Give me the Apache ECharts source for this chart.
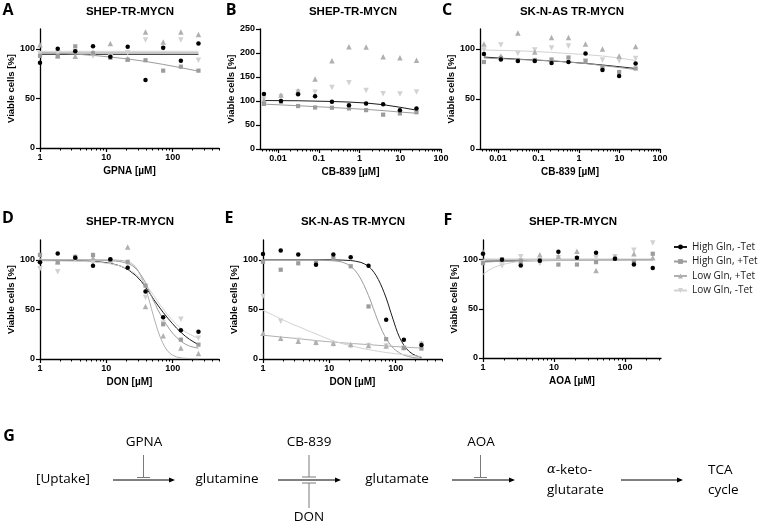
<!DOCTYPE html>
<html><head><meta charset="utf-8">
<script src="https://cdn.jsdelivr.net/npm/echarts@6/dist/echarts.min.js"></script>
<style>html,body{margin:0;padding:0;background:#fff}#c{width:759px;height:524px}</style>
</head><body><div id="c"></div>
<script>
// ---------- categories / ticks ----------
const conditions = ['High Gln, -Tet', 'High Gln, +Tet', 'Low Gln, +Tet', 'Low Gln, -Tet'];
const xTicksDose = [1, 10, 100];
const xTicksCB = [0.01, 0.1, 1, 10, 100];
const yTicks120 = [0, 50, 100];
const yTicks250 = [0, 50, 100, 150, 200, 250];

// ---------- doses ----------
const dosesGPNA = [1, 1.85, 3.4, 6.3, 11.5, 21, 39, 72, 133, 245];
const dosesCB839 = [0.0045, 0.0118, 0.031, 0.081, 0.21, 0.55, 1.45, 3.8, 9.8, 25];
const dosesDON = [1, 1.85, 3.4, 6.3, 11.5, 21, 39, 72, 133, 245];
const dosesAOA = [1, 1.85, 3.4, 6.3, 11.5, 21, 39, 72, 133, 245];

// ---------- A: GPNA, SHEP ----------
const A_hm = [86, 100, 97.5, 102.5, 92, 102, 68.5, 101, 88, 105.5];
const A_hp = [93, 92.5, 102.5, 95.5, 91, 89, 88.5, 78, 82, 78];
const A_lp = [104, 93, 92.5, 96.5, 105.5, 90, 117, 107, 117, 114.5];
const A_lm = [95, 96, 97, 92.5, 92, 96, 109, 100, 109, 88.5];
const A_fit_hm = [[1, 94.5], [245, 94.5]];
const A_fit_hp = [[1, 96], [2, 95.5], [3.4, 94.7], [6.3, 93.4], [11.5, 91.7], [21, 89.8], [39, 87.3], [72, 84.3], [133, 81], [245, 77.5]];
const A_fit_lp = [[1, 96], [245, 96]];
const A_fit_lm = [[1, 97.5], [245, 97.5]];

// ---------- B: CB-839, SHEP ----------
const B_hm = [114.5, 100, 114, 110, 98.5, 91, 95, 93, 80.5, 84.5];
const B_hp = [94, 98.5, 89.5, 86.5, 86, 84.5, 81, 71.5, 74, 76.5];
const B_lp = [102, 112.5, 121.5, 146, 184, 213, 212.5, 192, 190, 185];
const B_lm = [104, 109, 119, 118, 128, 138, 122, 115, 114.5, 119];
const B_fit_hm = [[0.0045, 101], [0.031, 100.5], [0.21, 99], [0.55, 97.8], [1.45, 95.8], [3.8, 92.3], [9.8, 87], [25, 81]];
const B_fit_hp = [[0.0045, 93.5], [0.0118, 91.8], [0.031, 90.2], [0.081, 88.3], [0.21, 86.5], [0.55, 84.5], [1.45, 82.5], [3.8, 80], [9.8, 77], [25, 74.5]];

// ---------- C: CB-839, SK-N-AS ----------
const C_hm = [95, 89.5, 88, 88, 86, 87, 95.5, 79, 73, 85.5];
const C_hp = [87, 91, 89, 89, 89.5, 91.5, 88, 81, 77, 80.5];
const C_lp = [105, 93, 116, 97, 111.5, 111.5, 105, 100, 93, 102.5];
const C_lm = [99, 104, 95.5, 99, 101, 103, 88, 89, 88, 90.5];
const C_fit_hm = [[0.0045, 92], [0.0118, 90.8], [0.031, 89.8], [0.081, 89], [0.21, 88], [0.55, 87], [1.45, 85.6], [3.8, 84], [9.8, 82.3], [25, 80.5]];
const C_fit_hp = [[0.0045, 91], [0.031, 89.5], [0.21, 88.3], [1.45, 85.5], [3.8, 83.5], [9.8, 81.5], [25, 79.5]];
const C_fit_lm = [[0.0045, 99], [0.031, 98.2], [0.081, 97.5], [0.21, 96.6], [0.55, 95.5], [1.45, 94.4], [3.8, 93], [9.8, 91], [25, 88.5]];

// ---------- D: DON, SHEP ----------
const D_hm = [97.5, 106.5, 102, 94, 100.5, 92, 68, 42, 29, 27.5];
const D_hp = [105, 97.5, 103, 105, 100, 98, 74, 35, 19.5, 14.5];
const D_lp = [100, 98, 103, 102, 100, 113, 53, 23.5, 11, 5.5];
const D_lm = [91, 88, 100, 97, 98, 95, 62, 36, 40, 21];
const D_fit_hm = [[1, 99.5], [3.4, 99.2], [6.3, 98.5], [9, 97.5], [11.5, 96.5], [16, 94], [21, 90.5], [28, 84], [34, 78], [39, 72.5], [45, 66.5], [52, 60], [61, 53.5], [72, 47], [85, 41], [100, 35.5], [115, 31], [133, 27], [155, 23], [180, 19.8], [210, 17], [245, 14.5]];
const D_fit_hp = [[1, 100], [6.3, 99.8], [11.5, 99.3], [16, 98.3], [21, 96.5], [25, 94], [30, 89], [35, 82.5], [39, 77], [42, 72], [46, 66], [50, 60.5], [55, 55], [60, 49.5], [66, 44.5], [72, 40], [80, 35], [90, 30], [100, 26], [115, 21.7], [133, 18], [155, 15], [180, 13], [210, 11.8], [245, 11]];
const D_fit_lp = [[1, 100], [11.5, 100], [16, 99.5], [19, 98.8], [21, 98], [24, 96.5], [27, 93.5], [30, 89.5], [33, 84], [36, 78], [39, 71.5], [42, 64.5], [45, 57.5], [48, 50.5], [51, 44], [55, 36.5], [60, 28.5], [65, 22], [70, 17], [75, 13], [82, 9], [90, 6], [100, 3.8], [115, 2], [140, 0.9], [180, 0.4], [245, 0.2]];
const D_fit_lm = [[1, 99], [3.4, 98.6], [6.3, 98], [9, 97], [11.5, 96], [16, 94], [21, 91], [26, 87], [30, 83.5], [35, 79], [39, 75.5], [45, 70], [52, 64], [61, 57], [72, 50.5], [85, 44], [100, 39], [115, 34.5], [133, 31], [155, 27.5], [180, 25], [210, 22.8], [245, 21]];

// ---------- E: DON, SK-N-AS ----------
const E_hm = [106, 109.5, 105.5, 95, 105.5, 102.5, 94, 39.5, 19.5, 14];
const E_hp = [98, 90, 96.5, 97.5, 101.5, 93.5, 53, 20, 11, 10.5];
const E_lp = [26, 21, 18, 17, 16, 14.5, 13.5, 13, 12, 16];
const E_lm = [63, 38, 19, 16, 14.5, 13, 13.5, 13, 11, 15];
const E_fit_hm = [[1, 100], [11.5, 100], [16, 99.7], [21, 99.3], [25, 98.6], [30, 97.4], [34, 95.8], [39, 93.5], [43, 90.8], [47, 87.5], [51, 84], [55, 80], [59, 75.8], [63, 71.5], [67, 67], [72, 61.5], [78, 54.5], [85, 46.5], [92, 39.5], [100, 32], [107, 26.5], [115, 21.5], [124, 17.3], [133, 14], [145, 10.5], [160, 7.6], [180, 5], [200, 3.5], [220, 2.5], [245, 1.7]];
const E_fit_hp = [[1, 100], [6.3, 99.9], [11.5, 99], [14, 98.4], [16, 97.5], [18.5, 95.8], [21, 93.5], [24, 90], [27, 85.5], [30, 80.5], [33, 75], [36, 69.5], [39, 64], [42.5, 57.5], [46, 51], [50, 44.5], [54, 38.5], [58, 33.5], [63, 28], [67.5, 24], [72, 20.5], [78, 17], [85, 13.5], [92, 11], [100, 8.8], [115, 6], [133, 3.9], [155, 2.5], [180, 1.6], [210, 1], [245, 0.7]];
const E_fit_lp = [[1, 24], [1.85, 22.2], [3.4, 20.5], [6.3, 18.6], [11.5, 17], [21, 15.7], [39, 14.5], [72, 13.2], [133, 12], [245, 11]];
const E_fit_lm = [[1, 49], [1.2, 46.6], [1.4, 44.5], [1.6, 42.5], [1.85, 40.5], [2.15, 38.5], [2.5, 36.5], [2.9, 34.6], [3.4, 32.8], [4, 30.8], [4.6, 29], [5.4, 27.1], [6.3, 25.3], [7.3, 23.5], [8.5, 21.6], [10, 19.8], [11.5, 18.3], [13.5, 16.8], [16, 15.4], [18.5, 14.3], [21, 13.4], [25, 12.2], [30, 11], [34, 10.2], [39, 9.5], [46, 8.6], [55, 7.8], [63, 7.1], [72, 6.5], [85, 5.9], [100, 5.3], [115, 4.9], [133, 4.4], [155, 3.8], [180, 3.3], [210, 2.9], [245, 2.5]];

// ---------- F: AOA, SHEP ----------
const F_hm = [106, 100, 94, 99, 108, 102, 107, 101, 95, 91.5];
const F_hp = [96.5, 100.5, 99, 99.5, 95, 95, 97.5, 101, 98, 106];
const F_lp = [108, 100, 98, 105, 103.5, 108.5, 89, 103, 106, 102];
const F_lm = [97, 93.5, 103, 96, 102, 101, 102, 103, 109.5, 117];
const F_fit_hm = [[1, 98.5], [245, 100]];
const F_fit_hp = [[1, 97.5], [1.85, 98.4], [3.4, 99], [6.3, 99.3], [245, 99.5]];
const F_fit_lp = [[1, 100.5], [245, 100.5]];
const F_fit_lm = [[1, 85], [1.1, 87.3], [1.2, 89.2], [1.3, 90.6], [1.45, 92.2], [1.6, 93.4], [1.85, 94.8], [2.15, 96], [2.5, 96.9], [2.9, 97.6], [3.4, 98.2], [4.3, 98.8], [6.3, 99.3], [11.5, 99.5], [245, 99.5]];

// ---------- styles ----------
const condColor = ['#000000', '#9c9c9c', '#b0b0b0', '#d2d2d2'];
const condLine = ['#1c1c1c', '#9c9c9c', '#b0b0b0', '#d2d2d2'];
const condSymbol = ['circle', 'rect', 'triangle', 'path://M0,0L10,0L5,9Z'];
const condSize = [4.5, 4.2, 5.5, 5.5];
const axisFont = 'Liberation Sans, Arial, sans-serif';
const textFont = 'Open Sans, sans-serif';

const panels = [
  {letter: 'A', title: 'SHEP-TR-MYCN', xName: 'GPNA [µM]', grid: {left: 40, top: 29, width: 179, height: 119},
   xMin: 1, xMax: 500, xTicks: xTicksDose, yMax: 120, yTicks: yTicks120, yGap: 23,
   doses: dosesGPNA, pts: [A_hm, A_hp, A_lp, A_lm], fits: [A_fit_hm, A_fit_hp, A_fit_lp, A_fit_lm],
   letterPos: [8, 12], titlePos: [130, 12]},
  {letter: 'B', title: 'SHEP-TR-MYCN', xName: 'CB-839 [µM]', grid: {left: 260, top: 29, width: 181, height: 120},
   xMin: 0.0036, xMax: 100, xTicks: xTicksCB, yMax: 250, yTicks: yTicks250, yGap: 19,
   doses: dosesCB839, pts: [B_hm, B_hp, B_lp, B_lm], fits: [B_fit_hm, B_fit_hp, null, null],
   letterPos: [231, 12], titlePos: [353, 12]},
  {letter: 'C', title: 'SK-N-AS TR-MYCN', xName: 'CB-839 [µM]', grid: {left: 480, top: 29, width: 180, height: 120},
   xMin: 0.0036, xMax: 100, xTicks: xTicksCB, yMax: 120, yTicks: yTicks120, yGap: 20,
   doses: dosesCB839, pts: [C_hm, C_hp, C_lp, C_lm], fits: [C_fit_hm, C_fit_hp, null, C_fit_lm],
   letterPos: [447, 12], titlePos: [572, 12]},
  {letter: 'D', title: 'SHEP-TR-MYCN', xName: 'DON [µM]', grid: {left: 40, top: 240, width: 179, height: 119},
   xMin: 1, xMax: 500, xTicks: xTicksDose, yMax: 120, yTicks: yTicks120, yGap: 23,
   doses: dosesDON, pts: [D_hm, D_hp, D_lp, D_lm], fits: [D_fit_hm, D_fit_hp, D_fit_lp, D_fit_lm],
   letterPos: [8, 220], titlePos: [130, 222]},
  {letter: 'E', title: 'SK-N-AS TR-MYCN', xName: 'DON [µM]', grid: {left: 263, top: 240, width: 179, height: 119},
   xMin: 1, xMax: 500, xTicks: xTicksDose, yMax: 120, yTicks: yTicks120, yGap: 21,
   doses: dosesDON, pts: [E_hm, E_hp, E_lp, E_lm], fits: [E_fit_hm, E_fit_hp, E_fit_lp, E_fit_lm],
   letterPos: [229, 220], titlePos: [353, 222]},
  {letter: 'F', title: 'SHEP-TR-MYCN', xName: 'AOA [µM]', grid: {left: 483, top: 240, width: 178, height: 118},
   xMin: 1, xMax: 320, xTicks: xTicksDose, yMax: 120, yTicks: yTicks120, yGap: 23,
   doses: dosesAOA, pts: [F_hm, F_hp, F_lp, F_lm], fits: [F_fit_hm, F_fit_hp, F_fit_lp, F_fit_lm],
   letterPos: [448, 222], titlePos: [573, 222]}
];

function minorTicks(min, max) {
  const out = [];
  for (let e = -4; e <= 3; e++) {
    for (let m = 2; m <= 9; m++) {
      const v = +(m * Math.pow(10, e)).toPrecision(6);
      if (v > min && v <= max) out.push(v);
    }
  }
  return out;
}
const fmt = v => String(+(+v).toPrecision(6));

const grids = [], xAxes = [], yAxes = [], lineSeries = [], pointSeries = [], titles = [];
panels.forEach((p, i) => {
  grids.push(Object.assign({containLabel: false}, p.grid));
  xAxes.push({
    type: 'log', gridIndex: i, min: p.xMin, max: p.xMax, position: 'bottom',
    name: p.xName, nameLocation: 'middle', nameGap: 18,
    nameTextStyle: {fontFamily: axisFont, fontWeight: 'bold', fontSize: 10, color: '#000'},
    axisLine: {show: true, onZero: false, lineStyle: {color: '#000', width: 1.3}},
    axisTick: {show: true, length: 4, customValues: p.xTicks, lineStyle: {color: '#000', width: 1.2}},
    axisLabel: {show: true, customValues: p.xTicks, formatter: fmt, margin: 5,
      fontFamily: axisFont, fontWeight: 'bold', fontSize: 9, color: '#000'},
    splitLine: {show: false}, minorTick: {show: false}
  });
  xAxes.push({
    type: 'log', gridIndex: i, min: p.xMin, max: p.xMax, position: 'bottom',
    axisLine: {show: true, onZero: false, lineStyle: {color: 'rgba(0,0,0,0)', width: 1}},
    axisTick: {show: true, length: 2.5, customValues: minorTicks(p.xMin, p.xMax), lineStyle: {color: '#000', width: 1}},
    axisLabel: {show: false}, splitLine: {show: false}
  });
  yAxes.push({
    type: 'value', gridIndex: i, min: 0, max: p.yMax,
    name: 'Viable cells [%]', nameLocation: 'middle', nameGap: p.yGap,
    nameTextStyle: {fontFamily: axisFont, fontWeight: 'bold', fontSize: 9.5, color: '#000'},
    axisLine: {show: true, onZero: false, lineStyle: {color: '#000', width: 1.3}},
    axisTick: {show: true, length: 4, customValues: p.yTicks, lineStyle: {color: '#000', width: 1.2}},
    axisLabel: {show: true, customValues: p.yTicks, margin: 5,
      fontFamily: axisFont, fontWeight: 'bold', fontSize: 9, color: '#000'},
    splitLine: {show: false}
  });
  titles.push({text: p.title, left: p.titlePos[0], top: p.titlePos[1] - 6, textAlign: 'center', padding: 0,
    textStyle: {fontFamily: axisFont, fontWeight: 'bold', fontSize: 11.5, color: '#000'}});
  titles.push({text: p.letter, left: p.letterPos[0], top: p.letterPos[1] - 10, textAlign: 'center', padding: 0,
    textStyle: {fontFamily: textFont, fontWeight: 'bold', fontSize: 16, color: '#000'}});
  conditions.forEach((c, k) => {
    if (p.fits[k]) {
      lineSeries.push({
        type: 'line', name: c, xAxisIndex: 2 * i, yAxisIndex: i, data: p.fits[k],
        symbol: condSymbol[k], symbolSize: condSize[k], showSymbol: false,
        smooth: false, silent: true,
        lineStyle: {color: condLine[k], width: 1}, itemStyle: {color: condColor[k]}
      });
    }
    pointSeries.push({
      type: 'scatter', name: c, xAxisIndex: 2 * i, yAxisIndex: i,
      data: p.doses.map((d, j) => [d, p.pts[k][j]]),
      symbol: condSymbol[k], symbolSize: condSize[k], silent: true,
      itemStyle: {color: condColor[k], opacity: 1}, z: 3 + (3 - k)
    });
  });
});

titles.push({text: 'G', left: 9, top: 428, textAlign: 'center', padding: 0,
  textStyle: {fontFamily: textFont, fontWeight: 'bold', fontSize: 16, color: '#000'}});

// ---------- pathway diagram (G) ----------
const g = [];
function txt(t, x, y, align) {
  g.push({type: 'text', x: x, y: y, style: {text: t, font: '13.5px ' + textFont, fontSize: 13.5, fontFamily: textFont,
    fill: '#000', align: align || 'center', textAlign: align || 'center', verticalAlign: 'middle', textVerticalAlign: 'middle',
    rich: {a: {fontStyle: 'italic', fontFamily: 'DejaVu Serif, serif', fontSize: 13}}}});
}
function arrow(x1, x2, y) {
  g.push({type: 'line', shape: {x1: x1, y1: y, x2: x2 - 4, y2: y}, style: {stroke: '#000', lineWidth: 1}});
  g.push({type: 'polygon', shape: {points: [[x2, y], [x2 - 6, y - 2.6], [x2 - 6, y + 2.6]]}, style: {fill: '#000'}});
}
function seg(x1, y1, x2, y2) {
  g.push({type: 'line', shape: {x1: x1, y1: y1, x2: x2, y2: y2}, style: {stroke: '#7a7a7a', lineWidth: 1}});
}
txt('[Uptake]', 63, 479);
arrow(113, 175, 480);
txt('GPNA', 144, 442);
seg(143.5, 455, 143.5, 477.5); seg(137, 477.5, 150, 477.5);
txt('glutamine', 227, 479);
arrow(278, 341, 480);
txt('CB-839', 309, 442);
seg(309, 455, 309, 477); seg(302, 477, 316, 477);
seg(302, 483, 316, 483); seg(309, 483, 309, 508);
txt('DON', 309, 517);
txt('glutamate', 397, 479);
arrow(452, 515, 480);
txt('AOA', 481, 442);
seg(480.5, 455, 480.5, 477.5); seg(474, 477.5, 487, 477.5);
txt('{a|α}-keto-', 547, 470, 'left');
txt('glutarate', 547, 490, 'left');
arrow(621, 683, 480);
txt('TCA', 708, 470, 'left');
txt('cycle', 708, 490, 'left');

const chart = echarts.init(document.getElementById('c'), null, {renderer: 'canvas'});
chart.setOption({
  animation: false,
  backgroundColor: '#fff',
  title: titles,
  legend: {
    data: conditions, orient: 'vertical', left: 673, top: 241, padding: 0,
    itemWidth: 13, itemHeight: 6, itemGap: 2.5, selectedMode: false,
    textStyle: {fontFamily: textFont, fontSize: 10, lineHeight: 12, color: '#1a1a1a'}
  },
  grid: grids,
  xAxis: xAxes,
  yAxis: yAxes,
  series: lineSeries.concat(pointSeries),
  graphic: g
});
</script></body></html>
